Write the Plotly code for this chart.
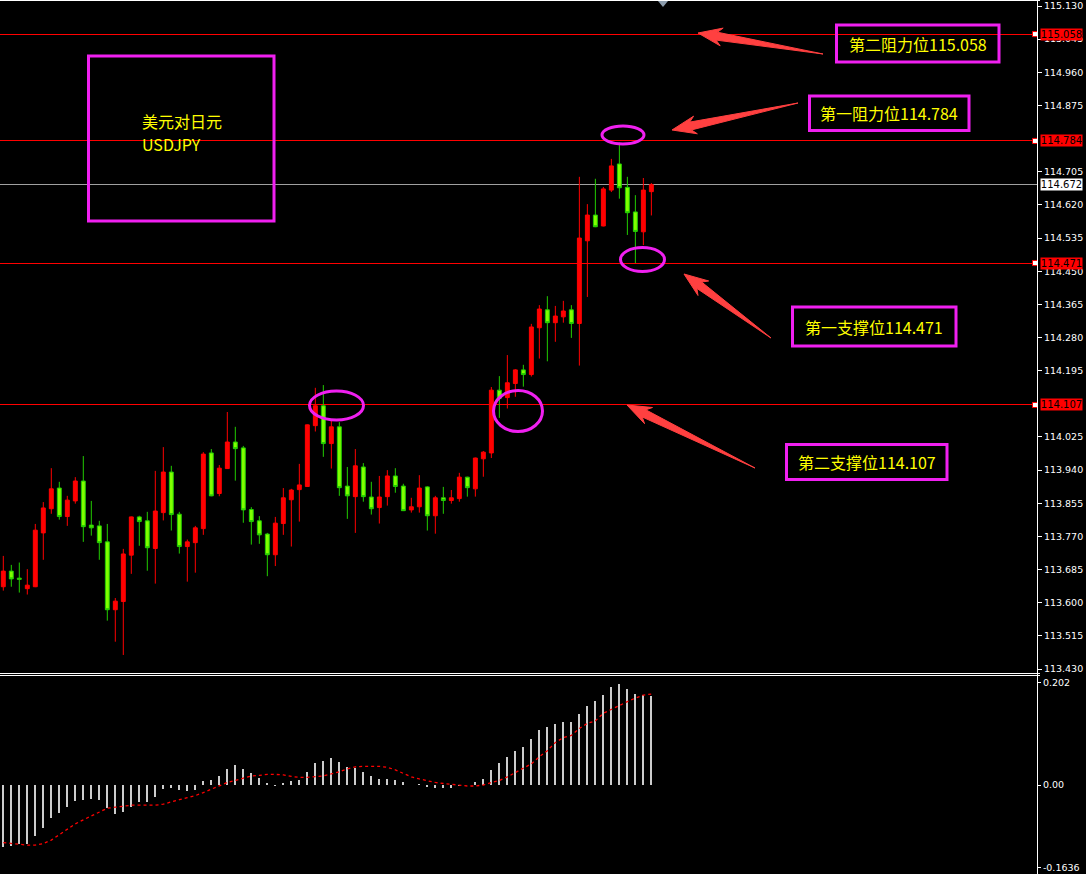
import math
import plotly.graph_objects as go

# ---------------- data ----------------
opens = [113.641, 113.681, 113.663, 113.636, 113.641, 113.779, 113.841, 113.894, 113.821, 113.861,
         113.912, 113.799, 113.797, 113.756, 113.582, 113.603, 113.722, 113.820, 113.810, 113.739,
         113.831, 113.935, 113.827, 113.744, 113.754, 113.790, 113.984, 113.880, 113.944, 114.012,
         113.997, 113.839, 113.810, 113.776, 113.723, 113.803, 113.864, 113.890, 113.898, 114.054,
         114.105, 114.008, 114.051, 113.899, 113.872, 113.948, 113.871, 113.844, 113.872, 113.925,
         113.899, 113.838, 113.846, 113.897, 113.823, 113.869, 113.862, 113.867, 113.922, 113.892,
         113.969, 113.984, 114.145, 114.126, 114.162, 114.197, 114.185, 114.305, 114.351, 114.318,
         114.333, 114.351, 114.316, 114.528, 114.594, 114.566, 114.658, 114.725, 114.665, 114.602,
         114.551, 114.654]
highs = [113.720, 113.697, 113.703, 113.686, 113.802, 113.858, 113.945, 113.910, 113.874, 113.922,
         113.976, 113.861, 113.810, 113.802, 113.612, 113.738, 113.821, 113.823, 113.833, 113.938,
         113.999, 113.951, 113.833, 113.762, 113.797, 113.986, 113.994, 113.953, 114.089, 114.051,
         114.002, 113.845, 113.822, 113.779, 113.820, 113.894, 113.892, 113.956, 114.057, 114.151,
         114.158, 114.066, 114.063, 113.948, 113.994, 113.958, 113.910, 113.925, 113.940, 113.945,
         113.905, 113.869, 113.927, 113.899, 113.874, 113.897, 113.889, 113.933, 113.923, 113.972,
         113.989, 114.153, 114.181, 114.235, 114.199, 114.210, 114.315, 114.363, 114.386, 114.361,
         114.374, 114.363, 114.692, 114.622, 114.687, 114.666, 114.738, 114.780, 114.692, 114.645,
         114.689, 114.676]
lows = [113.631, 113.641, 113.626, 113.621, 113.640, 113.710, 113.828, 113.813, 113.797, 113.854,
        113.756, 113.772, 113.710, 113.554, 113.500, 113.466, 113.674, 113.746, 113.682, 113.649,
        113.811, 113.785, 113.726, 113.654, 113.677, 113.774, 113.873, 113.873, 113.943, 113.913,
        113.805, 113.749, 113.751, 113.668, 113.694, 113.774, 113.744, 113.808, 113.897, 114.039,
        113.974, 113.944, 113.874, 113.815, 113.779, 113.859, 113.826, 113.803, 113.849, 113.882,
        113.835, 113.831, 113.831, 113.785, 113.777, 113.828, 113.854, 113.859, 113.872, 113.872,
        113.923, 113.971, 114.074, 114.098, 114.128, 114.154, 114.180, 114.226, 114.219, 114.269,
        114.318, 114.279, 114.208, 114.384, 114.563, 114.565, 114.653, 114.636, 114.543, 114.471,
        114.517, 114.593]
closes = [113.681, 113.661, 113.660, 113.645, 113.786, 113.843, 113.892, 113.821, 113.863, 113.912,
          113.795, 113.792, 113.754, 113.582, 113.604, 113.725, 113.820, 113.808, 113.741, 113.835,
          113.935, 113.826, 113.744, 113.756, 113.792, 113.981, 113.874, 113.945, 114.012, 113.995,
          113.838, 113.808, 113.774, 113.723, 113.804, 113.869, 113.889, 113.902, 114.056, 114.105,
          114.008, 114.051, 113.895, 113.874, 113.951, 113.872, 113.841, 113.871, 113.925, 113.898,
          113.836, 113.846, 113.894, 113.823, 113.869, 113.862, 113.869, 113.922, 113.895, 113.971,
          113.986, 114.145, 114.124, 114.164, 114.197, 114.185, 114.307, 114.353, 114.318, 114.335,
          114.348, 114.316, 114.535, 114.594, 114.564, 114.661, 114.720, 114.664, 114.600, 114.552,
          114.658, 114.672]
macd_hist = [-0.122, -0.120, -0.117, -0.117, -0.100, -0.085, -0.065, -0.055, -0.043, -0.031,
             -0.029, -0.027, -0.029, -0.045, -0.057, -0.053, -0.043, -0.033, -0.033, -0.023,
             -0.007, -0.005, -0.009, -0.011, -0.009, 0.007, 0.010, 0.018, 0.032, 0.040,
             0.032, 0.024, 0.014, 0.003, -0.001, 0.003, 0.007, 0.010, 0.026, 0.044,
             0.048, 0.054, 0.046, 0.036, 0.034, 0.026, 0.018, 0.012, 0.012, 0.010,
             0.005, 0.000, 0.001, -0.002, -0.005, -0.005, -0.005, -0.001, 0.000, 0.005,
             0.012, 0.030, 0.044, 0.056, 0.068, 0.076, 0.092, 0.108, 0.115, 0.121,
             0.125, 0.125, 0.141, 0.157, 0.167, 0.179, 0.195, 0.200, 0.191, 0.181,
             0.179, 0.177]
macd_signal = [-0.114, -0.116, -0.117, -0.119, -0.119, -0.116, -0.109, -0.098, -0.088, -0.077,
               -0.069, -0.061, -0.053, -0.046, -0.044, -0.042, -0.040, -0.040, -0.040, -0.040,
               -0.038, -0.033, -0.029, -0.025, -0.021, -0.015, -0.008, -0.002, 0.005, 0.009,
               0.013, 0.018, 0.019, 0.021, 0.021, 0.020, 0.017, 0.015, 0.015, 0.016,
               0.018, 0.022, 0.026, 0.032, 0.036, 0.037, 0.037, 0.037, 0.035, 0.030,
               0.023, 0.016, 0.012, 0.008, 0.005, 0.003, 0.001, -0.001, -0.002, -0.002,
               0.000, 0.005, 0.009, 0.016, 0.025, 0.033, 0.042, 0.056, 0.068, 0.084,
               0.094, 0.098, 0.112, 0.122, 0.127, 0.142, 0.150, 0.158, 0.165, 0.172,
               0.178, 0.180]
# axis labels that the level tags leave visible
price_ticks = [115.130, 115.045, 114.960, 114.875, 114.705, 114.620, 114.535, 114.450,
               114.365, 114.280, 114.195, 114.025, 113.940, 113.855, 113.770, 113.685,
               113.600, 113.515, 113.430]
macd_ticks = [0.202, 0.0, -0.1636]
macd_ticktext = ["0.202", "0.00", "-0.1636"]
red_levels = [115.058, 114.784, 114.471, 114.107]
current_price = 114.672
level_labels = ["第二阻力位115.058", "第一阻力位114.784", "第一支撑位114.471", "第二支撑位114.107"]
title_lines = ["美元对日元", "USDJPY"]

# ---------------- layout helpers ----------------
W, H = 1086, 874
R_MARGIN = 49
PW = W - R_MARGIN  # plot width in px
MAIN_H = 674       # main panel height in px
PRICE_RANGE = [113.4172, 115.1454]
MAIN_DOMAIN = [1 - MAIN_H / H, 1]


def px(x, y):
    return x / PW, 1 - y / H


def price_row(v):
    # pixel row of a price inside the main panel (for crisp 1px level lines)
    return math.floor((PRICE_RANGE[1] - v) / (PRICE_RANGE[1] - PRICE_RANGE[0]) * MAIN_H)


def path_from(points):
    s = ""
    for k, (x, y) in enumerate(points):
        fx, fy = px(x, y)
        s += ("M" if k == 0 else " L") + f"{fx:.5f},{fy:.5f}"
    return s + " Z"


def arrow_points(tip, tail, head_len=19, head_w=9, shaft_w=4):
    dx, dy = tip[0] - tail[0], tip[1] - tail[1]
    L = (dx * dx + dy * dy) ** 0.5
    ux, uy = dx / L, dy / L
    nx, ny = -uy, ux
    bx, by = tip[0] - ux * head_len, tip[1] - uy * head_len
    gx, gy = tip[0] - ux * (head_len + 5), tip[1] - uy * (head_len + 5)
    return [tail,
            (bx + nx * shaft_w, by + ny * shaft_w),
            (gx + nx * head_w, gy + ny * head_w),
            tip,
            (gx - nx * head_w, gy - ny * head_w),
            (bx - nx * shaft_w, by - ny * shaft_w)]


def px_rect(x0, y0, x1, y1, color, layer="above"):
    a, b = px(x0, y0)
    c, d = px(x1, y1)
    return dict(type="rect", xref="paper", yref="paper", x0=a, x1=c, y0=d, y1=b,
                fillcolor=color, line=dict(width=0), layer=layer)


x_idx = list(range(len(opens)))
MAGENTA = "#f020f0"
YELLOW = "#ffff00"
CJK = "Noto Sans CJK SC"

fig = go.Figure()
fig.add_trace(go.Candlestick(
    x=x_idx, open=opens, high=highs, low=lows, close=closes,
    increasing=dict(line=dict(color="#ff0000", width=1), fillcolor="#ff0000"),
    decreasing=dict(line=dict(color="#22cc00", width=1), fillcolor="#80ff00"),
    xaxis="x", yaxis="y", hoverinfo="skip", showlegend=False,
))
fig.add_trace(go.Bar(
    x=x_idx, y=macd_hist, width=0.2, marker=dict(color="#cccccc", line=dict(width=0)),
    xaxis="x", yaxis="y2", hoverinfo="skip", showlegend=False,
))
fig.add_trace(go.Scatter(
    x=x_idx, y=macd_signal, mode="lines",
    line=dict(color="#ff0000", width=1.3, dash="dot"),
    xaxis="x", yaxis="y2", hoverinfo="skip", showlegend=False,
))

shapes = []
# level lines: crisp 1px rows, drawn below the candles
row = price_row(current_price)
shapes.append(px_rect(0, row, PW, row + 1, "#a0a0a0", layer="below"))
for lv in red_levels:
    row = price_row(lv)
    shapes.append(px_rect(0, row, PW, row + 1, "#ff0000", layer="below"))
    shapes.append(dict(type="rect", xref="paper", yref="y",
                       x0=1032.5 / PW, x1=1037.5 / PW, y0=lv - 0.0065, y1=lv + 0.0065,
                       fillcolor="#ffffff", line=dict(color="#ff0000", width=1)))

# panel frames (crisp 1px white lines)
shapes.append(px_rect(0, 0, 1040, 1, "#ffffff"))
shapes.append(px_rect(0, 673, 1040, 674, "#ffffff"))
shapes.append(px_rect(0, 675, 1040, 676, "#ffffff"))
shapes.append(px_rect(1037, 0, 1038, 874, "#ffffff"))

# top triangle marker
shapes.append(dict(type="path", xref="paper", yref="paper",
                   path=path_from([(658, 1), (668, 1), (663, 7)]),
                   fillcolor="#8c9cac", line=dict(width=0)))

# text boxes
boxes = [(836.5, 25, 999, 62), (809.5, 96, 969, 130.5), (792.5, 307, 956, 346), (786.5, 444.5, 947, 479.5)]
for (bx0, by0, bx1, by1) in boxes + [(88.5, 56, 274, 221)]:
    a, b = px(bx0, by0)
    c, d = px(bx1, by1)
    shapes.append(dict(type="rect", xref="paper", yref="paper", x0=a, x1=c, y0=d, y1=b,
                       line=dict(color=MAGENTA, width=3)))

# ellipses
for (cx, cy, rx, ry) in [(623, 135, 21, 9), (642.5, 259.5, 22, 12), (336.5, 405.5, 27, 14.5), (518, 411, 24.5, 20.5)]:
    a, b = px(cx - rx, cy - ry)
    c, d = px(cx + rx, cy + ry)
    shapes.append(dict(type="circle", xref="paper", yref="paper", x0=a, x1=c, y0=d, y1=b,
                       line=dict(color=MAGENTA, width=3)))

# arrows
for tip, tail in [((698, 33), (823, 54)), ((672, 130), (798, 103)),
                  ((684, 274), (771, 338)), ((627, 405), (755, 468))]:
    shapes.append(dict(type="path", xref="paper", yref="paper",
                       path=path_from(arrow_points(tip, tail)),
                       fillcolor="#ff4040", line=dict(color="#ff4040", width=1)))

annotations = []
for (bx0, by0, bx1, by1), label in zip(boxes, level_labels):
    cx, cy = px((bx0 + bx1) / 2, (by0 + by1) / 2)
    annotations.append(dict(xref="paper", yref="paper", x=cx, y=cy, text=label, showarrow=False,
                            xanchor="center", yanchor="middle",
                            font=dict(family=CJK, size=16, color=YELLOW)))
for line_text, ly in zip(title_lines, (121.5, 144)):
    lx, lyy = px(140, ly)
    annotations.append(dict(xref="paper", yref="paper", x=lx, y=lyy, text=line_text, showarrow=False,
                            xanchor="left", yanchor="middle",
                            font=dict(family=CJK, size=16, color=YELLOW)))

# price tags on the axis
for lv in red_levels:
    annotations.append(dict(xref="paper", yref="y", x=1, y=lv, xshift=3, xanchor="left", yanchor="middle",
                            text=f"{lv:.3f}", showarrow=False, bgcolor="#ff0000", borderpad=0,
                            width=41, height=11, align="center",
                            font=dict(family="DejaVu Sans", size=10, color="#000000")))
annotations.append(dict(xref="paper", yref="y", x=1, y=current_price, xshift=3, xanchor="left", yanchor="middle",
                        text=f"{current_price:.3f}", showarrow=False, bgcolor="#ffffff", borderpad=0,
                        width=41, height=11, align="center",
                        font=dict(family="DejaVu Sans", size=10, color="#000000")))

fig.update_layout(
    width=W, height=H,
    margin=dict(l=0, r=R_MARGIN, t=0, b=0, autoexpand=False),
    paper_bgcolor="#000000", plot_bgcolor="rgba(0,0,0,0)",
    showlegend=False, hovermode=False,
    xaxis=dict(domain=[0, 1], range=[-0.4125, 129.2], showgrid=False, zeroline=False,
               showticklabels=False, ticks="", rangeslider=dict(visible=False), anchor="y2",
               fixedrange=True, automargin=False),
    yaxis=dict(domain=MAIN_DOMAIN, range=PRICE_RANGE, side="right", anchor="x",
               tickmode="array", tickvals=price_ticks, ticktext=[f"{t:.3f}" for t in price_ticks],
               showgrid=False, zeroline=False, ticks="outside", ticklen=4, tickcolor="#ffffff",
               tickfont=dict(family="DejaVu Sans", size=9.5, color="#ffffff"), fixedrange=True,
               automargin=False),
    yaxis2=dict(domain=[0, 198 / H], range=[-0.1762, 0.2158], side="right", anchor="x",
                tickmode="array", tickvals=macd_ticks, ticktext=macd_ticktext,
                showgrid=False, zeroline=False, ticks="outside", ticklen=3, tickcolor="#ffffff",
                tickfont=dict(family="DejaVu Sans", size=9.5, color="#ffffff"), fixedrange=True,
                automargin=False),
    bargap=0,
    shapes=shapes,
    annotations=annotations,
)

fig.write_html("out.html", config={"displayModeBar": False},
               post_script="document.body.style.margin='0px';document.body.style.background='#000000';")
